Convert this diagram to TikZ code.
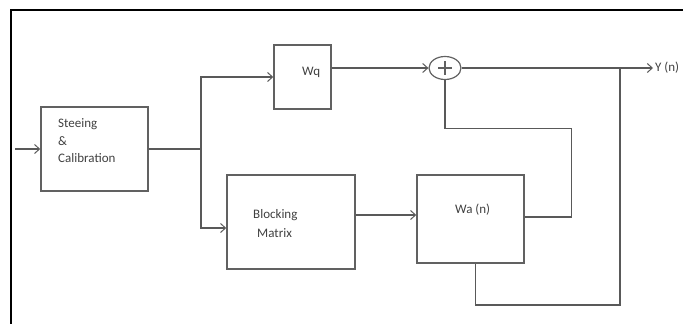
\documentclass[tikz,border=0pt]{standalone}
\usepackage{fontspec}
\setmainfont{Carlito}
\usetikzlibrary{arrows.meta,shapes.geometric,calc}
\begin{document}
\begin{tikzpicture}[x=1pt,y=-1pt,
  box/.style={draw=black!62,line width=1.5pt,rectangle,inner sep=0pt},
  wire/.style={draw=black!65,line width=1.2pt},
  arr/.style={wire,-{Straight Barb[length=5pt,width=9pt,line width=1pt]}},
  txt/.style={font=\fontsize{13}{16.5}\selectfont,text=black!75,inner sep=0pt,anchor=west}]
\useasboundingbox (0,0) rectangle (683,324);
% frame
\draw[black,line width=2.5pt] (11,324) -- (11,10) -- (683,10);
% blocks
\node[box,minimum width=107pt,minimum height=84pt] (sc) at (94.5,149) {};
\node[box,minimum width=57pt,minimum height=64pt] (wq) at (302.5,77) {};
\node[box,minimum width=128pt,minimum height=94pt] (bm) at (291,222) {};
\node[box,minimum width=107pt,minimum height=88pt] (wa) at (470.5,219) {};
\node[draw=black!62,line width=1.2pt,ellipse,minimum width=32pt,minimum height=23pt,inner sep=0pt] (sum) at (445,68) {};
\draw[black!62,line width=1.2pt] ($(sum.center)+(-7,0)$) -- ($(sum.center)+(7,0)$)
  ($(sum.center)+(0,-7)$) -- ($(sum.center)+(0,7)$);
% texts
\node[txt] (t1) at (58,124) {Steeing};
\node[txt] (t2) at (58,141) {\&};
\node[txt] (t3) at (58,158) {Calibration};
\node[txt] (t4) at (302,72) {Wq};
\node[txt] (t5) at (253,215) {Blocking};
\node[txt] (t6) at (257,233) {Matrix};
\node[txt] (t7) at (455,210) {Wa (n)};
\coordinate (out) at (653,68);
\node[txt] (yn) at (655,68) {Y (n)};
% connectors
\coordinate (in) at (15,149);
\coordinate (j) at (201,149);
\coordinate (tap) at (620,68);
\draw[arr] (in) -- (sc.west);
\draw[wire] (sc.east) -- (j);
\draw[arr] (j) |- (wq.west);
\draw[arr] (j) |- ([yshift=-6pt]bm.west);
\draw[arr] (sum.west -| wq.east) -- (sum.west);
\draw[arr] (sum.east) -- (out);
\draw[wire] (tap) -- (620,305) -| ([xshift=5pt]wa.south);
\draw[arr] ([yshift=7pt]bm.east) -- ([yshift=7pt]bm.east -| wa.west);
\draw[wire] ([yshift=2pt]wa.east) -- ++(47,0) |- ($(sum.south)+(0,48)$) -- (sum.south);
\end{tikzpicture}
\end{document}
